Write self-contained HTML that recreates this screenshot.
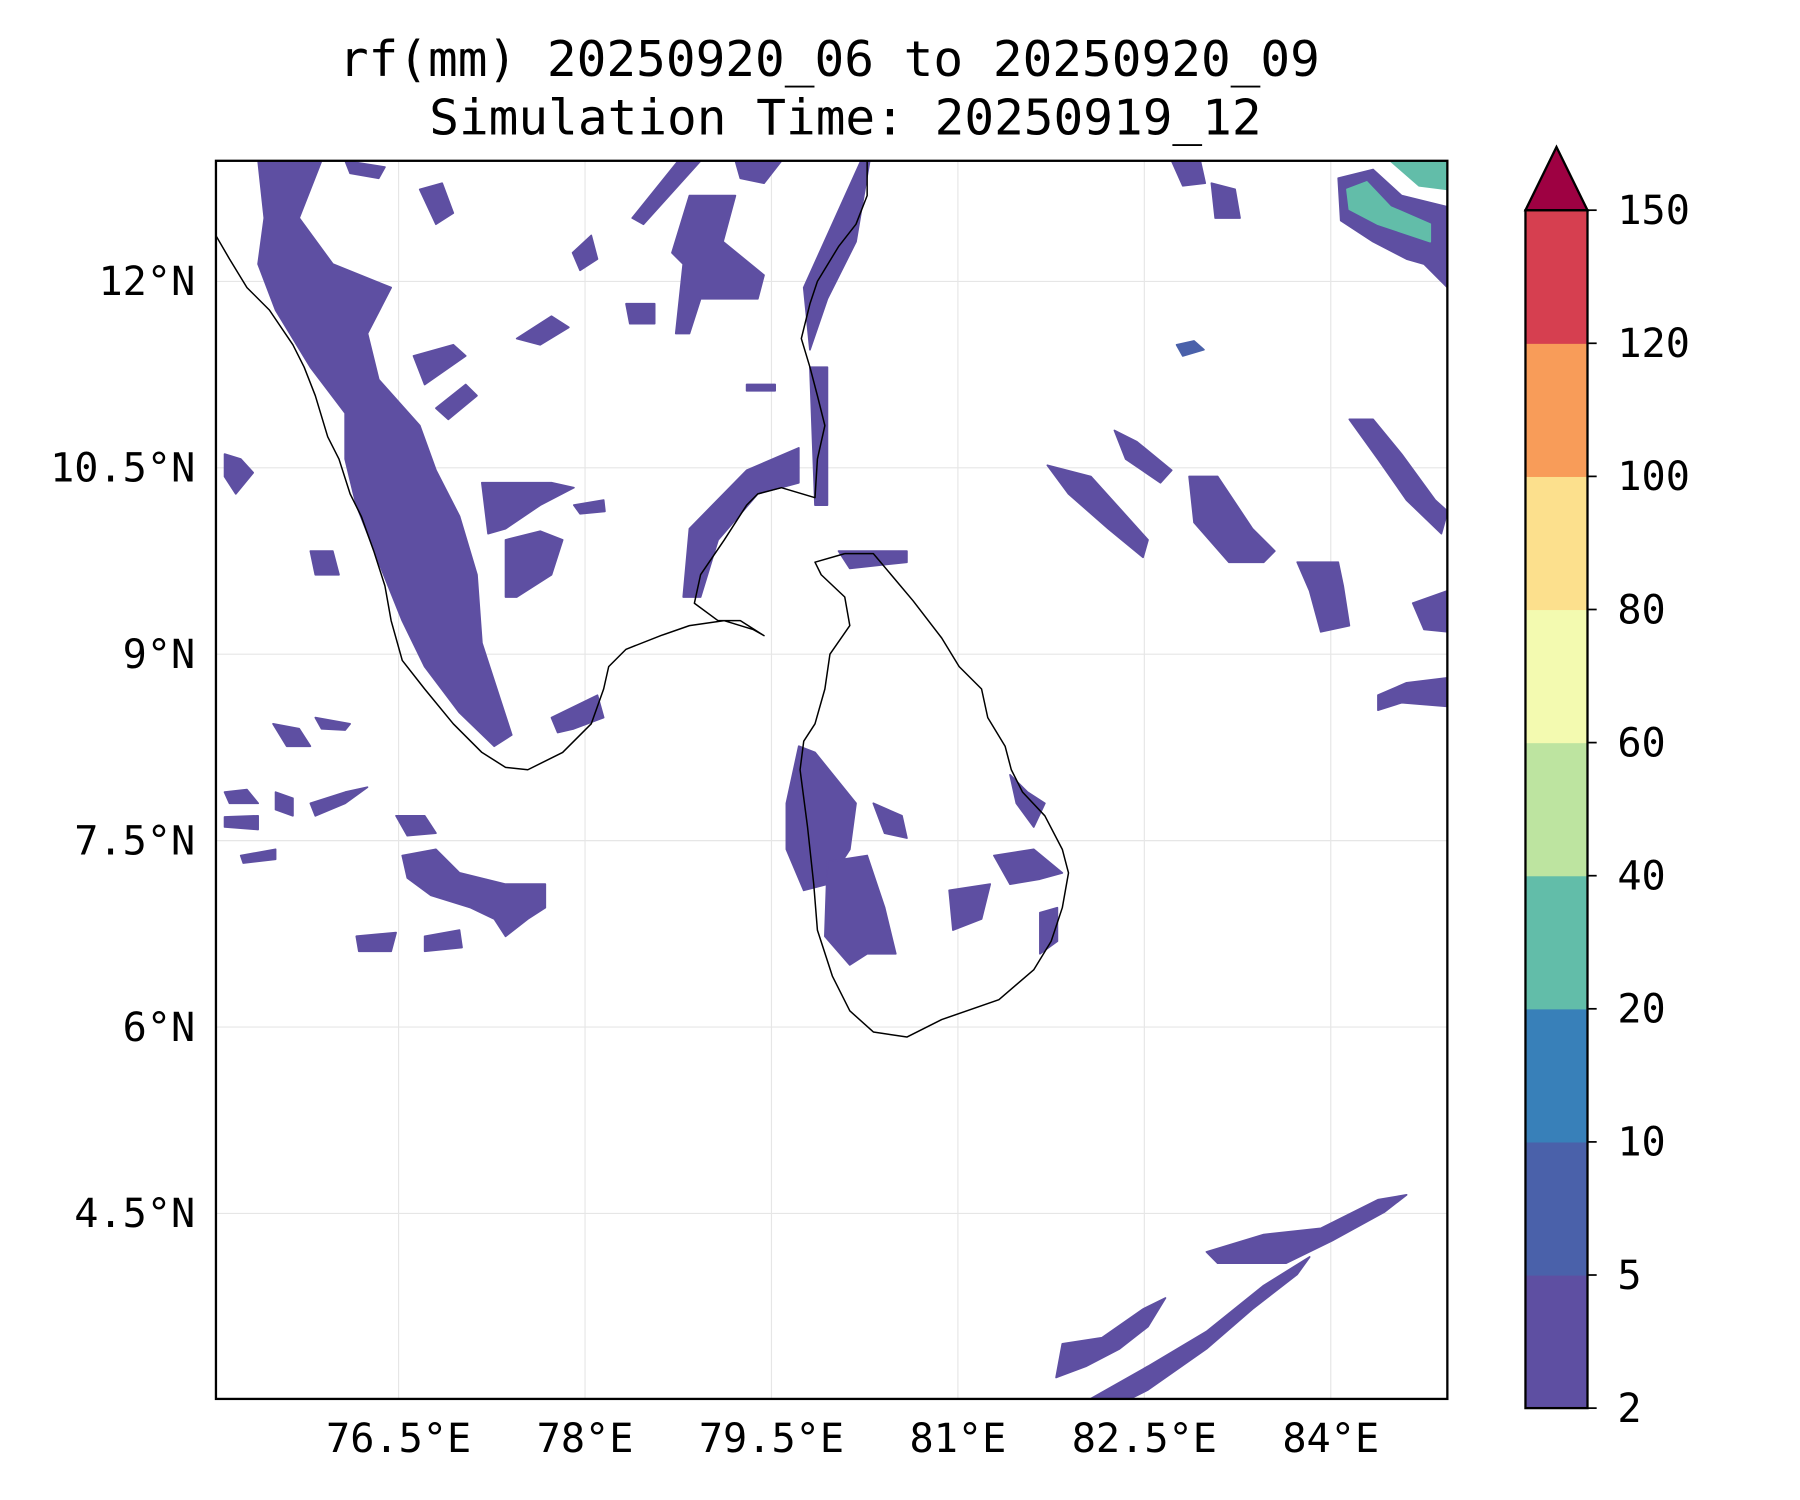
<!DOCTYPE html>
<html><head><meta charset="utf-8"><style>
html,body{margin:0;padding:0;background:#fff}
svg{display:block}
text{font-family:"DejaVu Sans Mono","Liberation Mono",monospace;fill:#000}
</style></head><body>
<svg id="fig" width="1800" height="1500" viewBox="0 0 1567 1306" preserveAspectRatio="none" xmlns="http://www.w3.org/2000/svg">
<rect width="1567" height="1306" fill="#fff"/>
<text x="722" y="66" font-size="43" text-anchor="middle">rf(mm) 20250920_06 to 20250920_09</text>
<text x="736" y="117" font-size="43" text-anchor="middle">Simulation Time: 20250919_12</text>
<defs><clipPath id="plotclip"><rect x="188" y="140" width="1072" height="1078"/></clipPath></defs>
<g id="grid"></g>
<g id="blobs" clip-path="url(#plotclip)"></g>
<g id="coast" clip-path="url(#plotclip)"></g>
<rect x="188" y="140" width="1072" height="1078" fill="none" stroke="#000" stroke-width="2"/>
<g id="axes"></g>
<g id="cbar"></g>
</svg>
<script>
const lonTicks=[76.5,78,79.5,81,82.5,84];
const lonLabels=["76.5°E","78°E","79.5°E","81°E","82.5°E","84°E"];
const latTicks=[12,10.5,9,7.5,6,4.5];
const latLabels=["12°N","10.5°N","9°N","7.5°N","6°N","4.5°N"];
const cbLevels=[2,5,10,20,40,60,80,100,120,150];
const cbColors=["#5e4fa2","#4a61aa","#3880b9","#62bda9","#bde4a0","#f3fab0","#fce08d","#f89c59","#d63f50"];
const cbExtendColor="#9e0142";
const coastIndia=[[75.03,12.37],[75.14,12.18],[75.28,11.95],[75.46,11.77],[75.65,11.49],[75.74,11.31],[75.83,11.08],[75.93,10.75],[76.02,10.57],[76.11,10.29],[76.20,10.11],[76.30,9.83],[76.39,9.55],[76.44,9.27],[76.53,8.95],[76.71,8.72],[76.94,8.44],[77.17,8.21],[77.36,8.09],[77.54,8.07],[77.82,8.21],[78.05,8.44],[78.15,8.72],[78.19,8.90],[78.33,9.04],[78.61,9.15],[78.84,9.23],[79.12,9.27],[79.35,9.20],[79.44,9.15],[79.25,9.27],[79.07,9.27],[78.88,9.41],[78.93,9.64],[79.12,9.92],[79.30,10.20],[79.39,10.29],[79.58,10.34],[79.85,10.26],[79.87,10.57],[79.93,10.84],[79.87,11.08],[79.81,11.31],[79.74,11.54],[79.81,11.82],[79.87,12.00],[80.04,12.28],[80.18,12.46],[80.27,12.69],[80.27,12.97]];
const coastLanka=[[80.09,9.81],[80.32,9.81],[80.64,9.43],[80.87,9.13],[81.01,8.90],[81.19,8.72],[81.24,8.49],[81.38,8.26],[81.43,8.07],[81.52,7.89],[81.70,7.70],[81.84,7.43],[81.89,7.24],[81.84,6.96],[81.75,6.69],[81.61,6.46],[81.33,6.22],[80.87,6.06],[80.59,5.92],[80.32,5.96],[80.13,6.13],[79.99,6.41],[79.87,6.78],[79.84,7.15],[79.79,7.61],[79.73,8.07],[79.76,8.30],[79.85,8.44],[79.93,8.72],[79.97,9.00],[80.13,9.23],[80.09,9.46],[79.90,9.64],[79.85,9.74],[80.09,9.81]];
const blobLevel=[0,0,0,0,0,0,0,0,0,0,0,0,0,0,0,0,0,0,0,0,0,0,1,3,3,0,0,0,0,0,0,0,0,0,0,0,0,0,0,0,0,0,0,0,0,0,0,0,0,0,0,0,0,0,1];
const blobs=[
[[75.37,12.97],[75.88,12.97],[75.70,12.51],[75.97,12.14],[76.44,11.95],[76.25,11.58],[76.34,11.21],[76.67,10.84],[76.80,10.48],[76.99,10.11],[77.13,9.64],[77.17,9.09],[77.41,8.35],[77.27,8.26],[76.99,8.53],[76.71,8.90],[76.53,9.27],[76.34,9.74],[76.16,10.20],[76.07,10.57],[76.07,10.94],[75.79,11.31],[75.51,11.77],[75.37,12.14],[75.42,12.51]],
[[78.84,12.69],[79.21,12.69],[79.11,12.32],[79.44,12.05],[79.39,11.86],[78.93,11.86],[78.84,11.58],[78.73,11.58],[78.79,12.14],[78.70,12.23]],
[[79.76,11.95],[80.22,12.97],[80.29,12.97],[80.18,12.32],[79.95,11.86],[79.81,11.45]],
[[78.38,12.51],[78.75,12.97],[78.93,12.97],[78.47,12.46]],
[[78.79,9.46],[78.84,10.01],[79.30,10.48],[79.72,10.66],[79.72,10.38],[79.39,10.29],[79.07,9.92],[78.93,9.46]],
[[79.81,11.31],[79.95,11.31],[79.95,10.20],[79.85,10.20]],
[[79.72,8.26],[79.85,8.21],[80.18,7.80],[80.13,7.43],[79.95,7.15],[79.76,7.10],[79.62,7.43],[79.62,7.80]],
[[79.95,7.33],[80.27,7.38],[80.41,6.96],[80.50,6.59],[80.27,6.59],[80.13,6.50],[79.93,6.73]],
[[80.93,7.10],[81.26,7.15],[81.19,6.87],[80.96,6.78]],
[[81.29,7.38],[81.61,7.43],[81.84,7.24],[81.66,7.19],[81.42,7.15]],
[[81.66,6.92],[81.80,6.96],[81.80,6.69],[81.66,6.59]],
[[80.32,7.80],[80.55,7.70],[80.59,7.52],[80.41,7.56]],
[[80.04,9.83],[80.59,9.83],[80.59,9.74],[80.13,9.69]],
[[81.42,8.03],[81.56,7.89],[81.70,7.80],[81.61,7.61],[81.47,7.80]],
[[81.72,10.52],[82.07,10.43],[82.53,9.92],[82.49,9.78],[82.21,10.01],[81.89,10.29]],
[[82.26,10.80],[82.44,10.71],[82.72,10.48],[82.63,10.38],[82.35,10.57]],
[[82.86,10.43],[83.09,10.43],[83.37,10.01],[83.55,9.83],[83.46,9.74],[83.18,9.74],[82.90,10.06]],
[[83.73,9.74],[84.06,9.74],[84.10,9.55],[84.15,9.23],[83.92,9.18],[83.83,9.51]],
[[84.15,10.89],[84.34,10.89],[84.57,10.61],[84.84,10.24],[84.94,10.15],[84.89,9.97],[84.61,10.24],[84.38,10.57]],
[[84.66,9.41],[84.94,9.51],[84.94,9.18],[84.75,9.20]],
[[84.38,8.67],[84.61,8.77],[84.94,8.81],[84.94,8.58],[84.57,8.61],[84.38,8.55]],
[[84.06,12.83],[84.34,12.90],[84.57,12.69],[84.94,12.60],[84.94,11.95],[84.75,12.14],[84.61,12.18],[84.34,12.32],[84.08,12.49]],
[[84.13,12.74],[84.29,12.80],[84.48,12.60],[84.80,12.46],[84.80,12.32],[84.38,12.46],[84.15,12.58]],
[[84.13,12.74],[84.29,12.80],[84.48,12.60],[84.80,12.46],[84.80,12.32],[84.38,12.46],[84.15,12.58]],
[[84.48,12.97],[84.94,12.97],[84.94,12.74],[84.71,12.77]],
[[82.72,12.97],[82.95,12.97],[82.99,12.79],[82.81,12.77]],
[[83.04,12.79],[83.23,12.74],[83.27,12.51],[83.07,12.51]],
[[83.00,4.19],[83.46,4.33],[83.92,4.38],[84.38,4.61],[84.61,4.65],[84.43,4.51],[84.01,4.28],[83.64,4.10],[83.09,4.10]],
[[82.07,3.01],[82.53,3.27],[83.00,3.55],[83.46,3.92],[83.83,4.15],[83.73,4.01],[83.37,3.73],[83.00,3.41],[82.53,3.08],[82.39,3.01]],
[[81.79,3.18],[81.84,3.45],[82.16,3.50],[82.49,3.73],[82.67,3.82],[82.53,3.59],[82.30,3.41],[82.03,3.27]],
[[76.53,7.38],[76.80,7.43],[76.99,7.24],[77.36,7.15],[77.68,7.15],[77.68,6.96],[77.54,6.87],[77.36,6.73],[77.27,6.87],[77.08,6.96],[76.76,7.06],[76.57,7.20]],
[[76.71,6.73],[76.99,6.78],[77.01,6.64],[76.71,6.61]],
[[76.16,6.73],[76.48,6.76],[76.44,6.61],[76.18,6.61]],
[[75.10,7.89],[75.28,7.91],[75.37,7.80],[75.14,7.80]],
[[75.10,7.69],[75.37,7.70],[75.37,7.59],[75.10,7.61]],
[[75.49,8.44],[75.70,8.40],[75.79,8.26],[75.60,8.26]],
[[75.83,8.49],[76.11,8.44],[76.07,8.39],[75.88,8.40]],
[[76.48,7.70],[76.71,7.70],[76.80,7.56],[76.57,7.54]],
[[75.51,7.89],[75.65,7.84],[75.65,7.70],[75.51,7.75]],
[[75.79,7.80],[76.07,7.89],[76.25,7.93],[76.07,7.80],[75.83,7.70]],
[[75.23,7.38],[75.51,7.43],[75.51,7.35],[75.25,7.32]],
[[75.10,10.61],[75.23,10.57],[75.33,10.46],[75.19,10.29],[75.10,10.43]],
[[75.79,9.83],[75.97,9.83],[76.02,9.64],[75.83,9.64]],
[[77.73,8.49],[78.10,8.67],[78.15,8.49],[77.91,8.40],[77.78,8.37]],
[[77.17,10.38],[77.73,10.38],[77.91,10.34],[77.64,10.20],[77.36,10.01],[77.22,9.97]],
[[77.36,9.92],[77.64,9.99],[77.82,9.92],[77.73,9.64],[77.45,9.46],[77.36,9.46]],
[[78.33,11.82],[78.56,11.82],[78.56,11.66],[78.36,11.66]],
[[77.45,11.54],[77.73,11.72],[77.87,11.63],[77.64,11.49]],
[[76.62,11.40],[76.94,11.49],[77.04,11.40],[76.71,11.17]],
[[76.80,10.98],[77.04,11.17],[77.13,11.08],[76.90,10.89]],
[[76.67,12.74],[76.85,12.79],[76.94,12.55],[76.80,12.46]],
[[77.90,12.23],[78.05,12.37],[78.10,12.18],[77.96,12.09]],
[[79.30,11.17],[79.53,11.17],[79.53,11.12],[79.30,11.12]],
[[77.91,10.20],[78.15,10.24],[78.16,10.15],[77.96,10.13]],
[[82.76,11.49],[82.90,11.52],[82.98,11.45],[82.81,11.40]],
[[76.07,12.97],[76.39,12.92],[76.34,12.83],[76.11,12.87]],
[[79.21,12.97],[79.58,12.97],[79.44,12.79],[79.25,12.83]]
];
const NS="http://www.w3.org/2000/svg";
const X0=188,X1=1260,Y0=140,Y1=1218,PX=108.2;
function xs(lon){return 347+(lon-76.5)*PX;}
function ys(lat){return 245+(12-lat)*PX;}
function mk(tag,attrs,parent){const e=document.createElementNS(NS,tag);for(const k in attrs)e.setAttribute(k,attrs[k]);parent.appendChild(e);return e;}
const grid=document.getElementById('grid'),axes=document.getElementById('axes');
lonTicks.forEach((v,i)=>{
  const x=xs(v);
  const g=mk('line',{x1:x,x2:x,y1:Y0,y2:Y1,stroke:'#e6e6e6','stroke-width':1},grid);
  
  
  const t=mk('text',{x:x,y:1264,'font-size':35,'text-anchor':'middle'},axes);
  t.textContent=lonLabels[i];
  
  
});
latTicks.forEach((v,i)=>{
  const y=ys(v);
  const g=mk('line',{x1:X0,x2:X1,y1:y,y2:y,stroke:'#e6e6e6','stroke-width':1},grid);
  
  
  const t=mk('text',{x:170,y:y+12,'font-size':35,'text-anchor':'end'},axes);
  t.textContent=latLabels[i];
  
  
});
const bg=document.getElementById('blobs');
blobs.forEach((b,i)=>{
  const lvl=blobLevel[i]||0;
  const p=mk('polygon',{points:b.map(q=>xs(q[0]).toFixed(1)+','+ys(q[1]).toFixed(1)).join(' '),fill:cbColors[lvl],stroke:cbColors[lvl],'stroke-width':1.5,'stroke-linejoin':'round'},bg);
  
  
});
const cg=document.getElementById('coast');
[coastIndia,coastLanka].forEach((c,i)=>{
  const p=mk('polyline',{points:c.map(q=>xs(q[0]).toFixed(1)+','+ys(q[1]).toFixed(1)).join(' '),fill:'none',stroke:'#000','stroke-width':1.3,'stroke-linejoin':'round'},cg);
  
  
});
const cb=document.getElementById('cbar');
const CX=1328,CW=54,CT=183,CB=1226,n=cbColors.length,seg=(CB-CT)/n;
cbColors.forEach((c,i)=>{
  const r=mk('rect',{x:CX,y:CB-(i+1)*seg,width:CW,height:seg+0.5,fill:c},cb);
  
  
});
const tri=mk('polygon',{points:`${CX},${CT} ${CX+CW/2},128 ${CX+CW},${CT}`,fill:cbExtendColor,stroke:'#000','stroke-width':2},cb);


mk('rect',{x:CX,y:CT,width:CW,height:CB-CT,fill:'none',stroke:'#000','stroke-width':2},cb);
cbLevels.forEach((v,i)=>{
  const y=CB-i*seg;
  mk('line',{x1:CX+CW,x2:CX+CW+8,y1:y,y2:y,stroke:'#000','stroke-width':1.5},cb);
  const t=mk('text',{x:1408,y:y+12,'font-size':35},cb);
  t.textContent=v;
  
  
});
</script>
</body></html>
